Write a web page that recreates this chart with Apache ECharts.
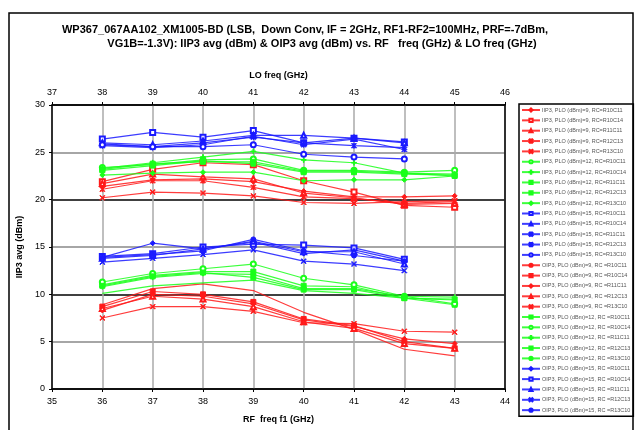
<!DOCTYPE html>
<html><head><meta charset="utf-8">
<script src="https://cdn.jsdelivr.net/npm/echarts@6/dist/echarts.min.js"></script>
<style>html,body{margin:0;padding:0;background:#fff}#c{width:637px;height:430px}</style>
</head><body><div id="c"></div>
<script>
// ---- data ----
const rfFreq = [36, 37, 38, 39, 40, 41, 42, 43];
const xTicksRF = [35, 36, 37, 38, 39, 40, 41, 42, 43, 44];
const xTicksLO = [37, 38, 39, 40, 41, 42, 43, 44, 45, 46];
const yTicks = [0, 5, 10, 15, 20, 25, 30];
const titleLine1 = 'WP367_067AA102_XM1005-BD (LSB,  Down Conv, IF = 2GHz, RF1-RF2=100MHz, PRF=-7dBm,';
const titleLine2 = 'VG1B=-1.3V): IIP3 avg (dBm) & OIP3 avg (dBm) vs. RF   freq (GHz) & LO freq (GHz)';

// IIP3, PLO = 9 dBm
const iip3_p9_R10C11 = [21.4, 22.1, 22.2, 21.9, 20.9, 20.3, 20.3, 20.4];
const iip3_p9_R10C14 = [21.9, 23.2, 23.9, 23.7, 22.0, 20.8, 19.4, 19.2];
const iip3_p9_R11C11 = [21.7, 22.7, 22.4, 22.2, 20.7, 20.2, 19.5, 19.6];
const iip3_p9_R12C13 = [21.1, 22.0, 22.0, 21.3, 20.3, 20.1, 19.6, 19.8];
const iip3_p9_R13C10 = [20.2, 20.8, 20.7, 20.4, 19.7, 19.6, 19.8, 19.9];
// IIP3, PLO = 12 dBm
const iip3_p12_R10C11 = [23.4, 23.7, 24.2, 24.3, 23.1, 23.1, 22.9, 23.1];
const iip3_p12_R10C14 = [23.3, 23.9, 24.5, 25.1, 24.2, 23.9, 22.8, 22.7];
const iip3_p12_R11C11 = [23.2, 23.8, 24.0, 24.0, 23.0, 23.0, 22.8, 22.5];
const iip3_p12_R12C13 = [23.1, 23.6, 24.1, 23.8, 22.9, 22.9, 22.7, 22.6];
const iip3_p12_R13C10 = [22.6, 22.8, 22.9, 22.9, 22.0, 22.1, 22.1, 22.5];
// IIP3, PLO = 15 dBm
const iip3_p15_R10C11 = [26.4, 27.1, 26.6, 27.3, 26.0, 26.5, 26.1];
const iip3_p15_R10C14 = [26.0, 25.8, 26.2, 26.8, 26.8, 26.5, 26.0];
const iip3_p15_R11C11 = [25.9, 25.6, 26.0, 26.6, 26.0, 25.7, 25.5];
const iip3_p15_R12C13 = [25.7, 25.5, 25.8, 26.7, 25.8, 26.4, 25.3];
const iip3_p15_R13C10 = [25.8, 25.6, 25.6, 25.8, 24.8, 24.5, 24.3];
// OIP3, PLO = 9 dBm
const oip3_p9_R10C11 = [8.9, 10.6, 11.1, 10.4, 8.1, 6.3, 4.2, 3.5];
const oip3_p9_R10C14 = [8.7, 10.3, 10.0, 9.2, 7.4, 6.7, 5.0, 4.3];
const oip3_p9_R11C11 = [8.3, 10.0, 9.8, 9.0, 7.3, 6.6, 5.3, 4.8];
const oip3_p9_R12C13 = [8.5, 9.8, 9.5, 8.7, 7.1, 6.4, 4.8, 4.3];
const oip3_p9_R13C10 = [7.5, 8.7, 8.7, 8.2, 7.0, 6.9, 6.1, 6.0];
// OIP3, PLO = 12 dBm
const oip3_p12_R10C11 = [11.0, 12.0, 12.4, 12.4, 10.9, 10.8, 9.6, 8.9];
const oip3_p12_R10C14 = [11.3, 12.2, 12.7, 13.2, 11.7, 11.0, 9.8, 9.0];
const oip3_p12_R11C11 = [10.8, 11.8, 12.2, 12.1, 10.6, 10.6, 9.8, 9.7];
const oip3_p12_R12C13 = [10.9, 11.9, 12.3, 11.8, 10.5, 10.5, 9.6, 9.4];
const oip3_p12_R13C10 = [10.1, 10.9, 11.2, 11.5, 10.4, 10.1, 9.6, 9.5];
// OIP3, PLO = 15 dBm
const oip3_p15_R10C11 = [13.9, 15.4, 14.8, 15.5, 14.3, 14.7, 13.5];
const oip3_p15_R10C14 = [14.0, 14.3, 15.0, 15.3, 15.2, 14.9, 13.7];
const oip3_p15_R11C11 = [13.8, 14.1, 14.8, 15.6, 14.5, 14.5, 13.2];
const oip3_p15_R12C13 = [13.4, 13.8, 14.2, 14.7, 13.5, 13.2, 12.5];
const oip3_p15_R13C10 = [13.9, 14.2, 14.6, 15.8, 14.6, 14.1, 13.5];

// ---- symbols ----
const S = {
  x: 'path://M0,1L1,0L5,4L9,0L10,1L6,5L10,9L9,10L5,6L1,10L0,9L4,5Z',
  ast: 'path://M0,1L1,0L4.3,3.3L4.3,0L5.7,0L5.7,3.3L9,0L10,1L6,5L10,9L9,10L5.7,6.7L5.7,10L4.3,10L4.3,6.7L1,10L0,9L4,5Z',
  plus: 'path://M4.3,0H5.7V4.3H10V5.7H5.7V10H4.3V5.7H0V4.3H4.3Z',
  dash: 'path://M0,4H10V6H0Z'
};
const RED = '#ff1a1a', GRN = '#1aff1a', BLU = '#1a1aff';

const seriesDefs = [
  ['IIP3, PLO (dBm)=9, RC=R10C11', iip3_p9_R10C11, RED, 'diamond'],
  ['IIP3, PLO (dBm)=9, RC=R10C14', iip3_p9_R10C14, RED, 'emptyRect'],
  ['IIP3, PLO (dBm)=9, RC=R11C11', iip3_p9_R11C11, RED, 'emptyTriangle'],
  ['IIP3, PLO (dBm)=9, RC=R12C13', iip3_p9_R12C13, RED, S.ast],
  ['IIP3, PLO (dBm)=9, RC=R13C10', iip3_p9_R13C10, RED, S.x],
  ['IIP3, PLO (dBm)=12, RC=R10C11', iip3_p12_R10C11, GRN, 'emptyCircle'],
  ['IIP3, PLO (dBm)=12, RC=R10C14', iip3_p12_R10C14, GRN, S.plus],
  ['IIP3, PLO (dBm)=12, RC=R11C11', iip3_p12_R11C11, GRN, S.dash],
  ['IIP3, PLO (dBm)=12, RC=R12C13', iip3_p12_R12C13, GRN, S.dash],
  ['IIP3, PLO (dBm)=12, RC=R13C10', iip3_p12_R13C10, GRN, 'diamond'],
  ['IIP3, PLO (dBm)=15, RC=R10C11', iip3_p15_R10C11, BLU, 'emptyRect'],
  ['IIP3, PLO (dBm)=15, RC=R10C14', iip3_p15_R10C14, BLU, 'emptyTriangle'],
  ['IIP3, PLO (dBm)=15, RC=R11C11', iip3_p15_R11C11, BLU, S.ast],
  ['IIP3, PLO (dBm)=15, RC=R12C13', iip3_p15_R12C13, BLU, S.ast],
  ['IIP3, PLO (dBm)=15, RC=R13C10', iip3_p15_R13C10, BLU, 'emptyCircle'],
  ['OIP3, PLO (dBm)=9, RC =R10C11', oip3_p9_R10C11, RED, 'none'],
  ['OIP3, PLO (dBm)=9, RC =R10C14', oip3_p9_R10C14, RED, S.dash],
  ['OIP3, PLO (dBm)=9, RC =R11C11', oip3_p9_R11C11, RED, 'diamond'],
  ['OIP3, PLO (dBm)=9, RC =R12C13', oip3_p9_R12C13, RED, 'emptyTriangle'],
  ['OIP3, PLO (dBm)=9, RC =R13C10', oip3_p9_R13C10, RED, S.x],
  ['OIP3, PLO (dBm)=12, RC =R10C11', oip3_p12_R10C11, GRN, 'rect'],
  ['OIP3, PLO (dBm)=12, RC =R10C14', oip3_p12_R10C14, GRN, 'emptyCircle'],
  ['OIP3, PLO (dBm)=12, RC =R11C11', oip3_p12_R11C11, GRN, S.plus],
  ['OIP3, PLO (dBm)=12, RC =R12C13', oip3_p12_R12C13, GRN, S.dash],
  ['OIP3, PLO (dBm)=12, RC =R13C10', oip3_p12_R13C10, GRN, 'none'],
  ['OIP3, PLO (dBm)=15, RC =R10C11', oip3_p15_R10C11, BLU, 'diamond'],
  ['OIP3, PLO (dBm)=15, RC =R10C14', oip3_p15_R10C14, BLU, 'emptyRect'],
  ['OIP3, PLO (dBm)=15, RC =R11C11', oip3_p15_R11C11, BLU, 'emptyTriangle'],
  ['OIP3, PLO (dBm)=15, RC =R12C13', oip3_p15_R12C13, BLU, S.x],
  ['OIP3, PLO (dBm)=15, RC =R13C10', oip3_p15_R13C10, BLU, 'circle']
];

const series = seriesDefs.map(([name, vals, color, sym]) => ({
  name, type: 'line', xAxisIndex: 0, yAxisIndex: 0,
  data: vals.map((v, i) => [rfFreq[i], v]),
  symbol: sym, symbolSize: 5, showSymbol: sym !== 'none',
  color: color,
  lineStyle: { color: color, width: 1.2, opacity: 0.85 },
  itemStyle: { color: color, borderColor: color, borderWidth: 1 },
  animation: false, silent: true
}));

const chart = echarts.init(document.getElementById('c'), null, { renderer: 'canvas' });
const FONT = 'Liberation Sans';
chart.setOption({
  backgroundColor: '#fff',
  animation: false,
  textStyle: { fontFamily: FONT },
  grid: { left: 52, right: 132, top: 105, bottom: 41, containLabel: false },
  graphic: [
    { type: 'rect', shape: { x: 9, y: 13, width: 624, height: 430 }, style: { fill: 'none', stroke: '#000', lineWidth: 1.5 }, z: -1 },
    { type: 'text', x: 305, y: 24, style: { text: titleLine1, fontFamily: FONT, fontWeight: 'bold', fontSize: 11, fill: '#000', textAlign: 'center' } },
    { type: 'text', x: 322, y: 38, style: { text: titleLine2, fontFamily: FONT, fontWeight: 'bold', fontSize: 11, fill: '#000', textAlign: 'center' } }
  ],
  legend: {
    orient: 'vertical', left: 519, top: 104,
    data: seriesDefs.map(d => d[0]),
    itemWidth: 18, itemHeight: 4, itemGap: 4.35, itemSymbolKeepAspect: true,
    padding: [3, 3, 3, 2],
    borderColor: '#000', borderWidth: 1.5,
    textStyle: { fontSize: 5.5, color: '#555', fontFamily: FONT, padding: [0, 0, 0, -3] },
    selectedMode: false
  },
  xAxis: [
    {
      type: 'value', position: 'bottom', min: xTicksRF[0], max: xTicksRF[xTicksRF.length - 1], interval: 1,
      name: 'RF  freq f1 (GHz)', nameLocation: 'middle', nameGap: 26,
      nameTextStyle: { fontWeight: 'bold', fontSize: 9, color: '#000' },
      axisLine: { onZero: false, lineStyle: { color: '#000', width: 1.5 } },
      axisTick: { show: true, length: 3, lineStyle: { color: '#000' } },
      axisLabel: { fontSize: 9, color: '#000', margin: 8 },
      splitLine: { show: true, lineStyle: { color: '#aaa', width: 1.5 } }
    },
    {
      type: 'value', position: 'top', min: xTicksLO[0], max: xTicksLO[xTicksLO.length - 1], interval: 1,
      name: 'LO freq (GHz)', nameLocation: 'middle', nameGap: 25,
      nameTextStyle: { fontWeight: 'bold', fontSize: 9, color: '#000' },
      axisLine: { onZero: false, lineStyle: { color: '#000', width: 1.5 } },
      axisTick: { show: true, length: 3, lineStyle: { color: '#000' } },
      axisLabel: { fontSize: 9, color: '#000', margin: 8 },
      splitLine: { show: false }
    }
  ],
  yAxis: [{
    type: 'value', min: yTicks[0], max: yTicks[yTicks.length - 1], interval: 5,
    name: 'IIP3 avg (dBm)', nameLocation: 'middle', nameGap: 23, nameRotate: 90,
    nameTextStyle: { fontWeight: 'bold', fontSize: 9, color: '#000' },
    axisLine: { show: true, onZero: false, lineStyle: { color: '#000', width: 1.5 } },
    axisTick: { show: true, length: 3, lineStyle: { color: '#000' } },
    axisLabel: { fontSize: 9, color: '#000', margin: 7 },
    splitLine: { show: true, lineStyle: { color: ['#000', '#888'], width: 1.5 } }
  }, {
    type: 'value', position: 'right', min: 0, max: 30, interval: 5,
    axisLine: { show: true, lineStyle: { color: '#000', width: 1.5 } },
    axisTick: { show: false }, axisLabel: { show: false }, splitLine: { show: false }
  }],
  series
});
</script>
</body></html>
